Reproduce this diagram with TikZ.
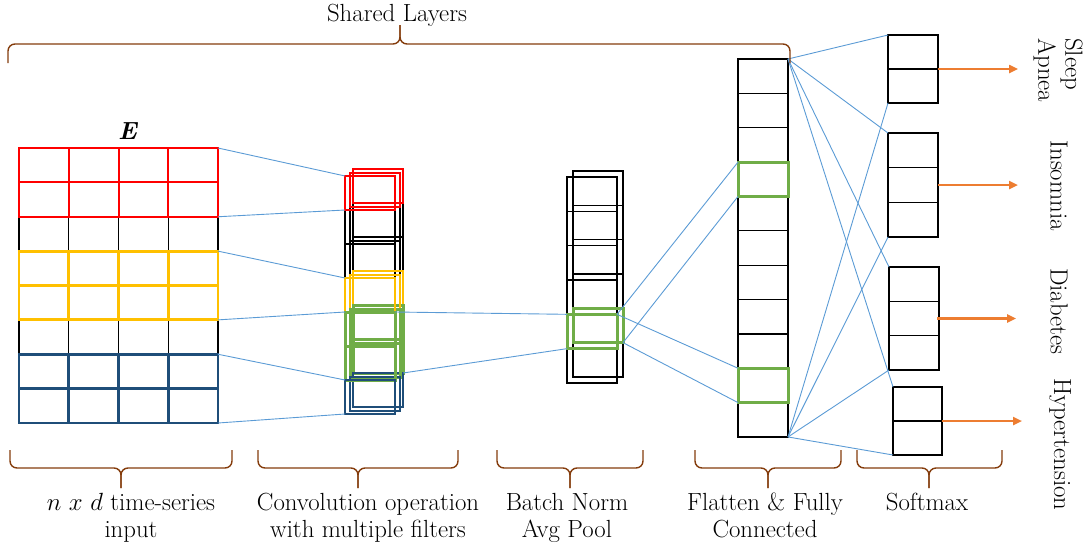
\documentclass[tikz,border=0pt]{standalone}
\usepackage{fontspec}
\usetikzlibrary{arrows.meta}
\definecolor{cred}{RGB}{255,0,0}
\definecolor{cyel}{RGB}{255,192,0}
\definecolor{cblu}{RGB}{31,78,121}
\definecolor{cgrn}{RGB}{112,173,71}
\definecolor{clink}{RGB}{91,155,213}
\definecolor{cbrace}{RGB}{132,60,12}
\definecolor{carrow}{RGB}{237,125,49}
\begin{document}
\begin{tikzpicture}[x=1pt,y=-1pt,
  font=\fontsize{24.8}{27}\selectfont,
  cellbox/.style={draw=black,line width=1.3pt,inner sep=0pt,outer sep=0pt,anchor=north west,minimum width=50pt,minimum height=34.3pt},
  link/.style={draw=clink,line width=0.9pt},
  bracepath/.style={draw=cbrace,line width=1.4pt,rounded corners=7pt},
  outarrow/.style={draw=carrow,line width=2.4pt,-{Triangle[length=9pt,width=8pt]}},
  lbl/.style={inner sep=0pt}
]
\useasboundingbox (0,0) rectangle (1086,546);

% ---------- input grid ----------
\foreach \r/\col/\lw in {2/black/1.3,5/black/1.3,0/cred/2,1/cred/2,3/cyel/2.8,4/cyel/2.8,6/cblu/2.8,7/cblu/2.8}
  \foreach \c in {0,...,3}
    \node[cellbox,draw=\col,line width=\lw pt,minimum width=49.75pt,minimum height=34.375pt] (in-\r-\c) at ({19+49.75*\c},{148+34.375*\r}) {};
\node[lbl] (elabel) at (128,131) {\textit{\textbf{E}}};

% ---------- convolution stack ----------
\foreach \k/\xo/\yo in {2/353/169,1/350/173,0/345/176}
  \foreach \i in {1,2}
    \node[cellbox,minimum height=34pt] (cv-\k-\i) at (\xo,{\yo+34*\i}) {};
\foreach \k/\xo/\yo in {2/353/169,1/350/173,0/345/176}
  \foreach \i/\col/\lw in {0/cred/2,3/cyel/2.8,4/cgrn/3,5/cgrn/3,6/cblu/2.8}
    \node[cellbox,minimum height=34pt,draw=\col,line width=\lw pt] (cv-\k-\i) at (\xo,{\yo+34*\i}) {};

% ---------- batch norm / pool stack ----------
\foreach \k/\xo/\yo in {1/573/171,0/567/177}
  \foreach \i in {0,1,2,3,5}
    \node[cellbox,minimum height=34.33pt] (bn-\k-\i) at (\xo,{\yo+34.33*\i}) {};
\foreach \k/\xo/\yo in {1/573/171,0/567/177}
  \node[cellbox,minimum height=34.33pt,draw=cgrn,line width=3pt] (bn-\k-4) at (\xo,{\yo+34.33*4}) {};

% ---------- flatten / fully connected ----------
\foreach \i in {0,1,2,4,5,6,7,8,10}
  \node[cellbox,minimum height=34.36pt] (fc-\i) at (738,{59+34.36*\i}) {};
\foreach \i in {3,9}
  \node[cellbox,minimum height=34.36pt,draw=cgrn,line width=3pt] (fc-\i) at (738,{59+34.36*\i}) {};

% ---------- softmax boxes ----------
\foreach \i in {0,1}
  \node[cellbox,minimum height=34pt] (sa-\i) at (888,{35+34*\i}) {};
\foreach \i in {0,1,2}
  \node[cellbox,minimum height=34.67pt] (sb-\i) at (888,{133+34.67*\i}) {};
\foreach \i in {0,1,2}
  \node[cellbox,minimum height=34.33pt] (sc-\i) at (889,{267+34.33*\i}) {};
\foreach \i in {0,1}
  \node[cellbox,minimum width=49pt,minimum height=34pt] (sd-\i) at (893,{387+34*\i}) {};

% ---------- connectors ----------
\draw[link] (in-0-3.north east) -- (cv-0-0.north west);
\draw[link] (in-1-3.south east) -- (cv-0-0.south west);
\draw[link] (in-3-3.north east) -- (cv-0-3.north west);
\draw[link] (in-4-3.south east) -- (cv-0-3.south west);
\draw[link] (in-6-3.north east) -- (cv-0-6.north west);
\draw[link] (in-7-3.south east) -- (cv-0-6.south west);

\draw[link] (cv-0-4.north east) -- (bn-0-4.north west);
\draw[link] (cv-2-5.south east) -- (bn-0-4.south west);

\draw[link] (bn-0-4.north east) -- (fc-3.north west);
\draw[link] (bn-1-4.south east) -- (fc-3.south west);
\draw[link] (bn-0-4.north east) -- (fc-9.north west);
\draw[link] (bn-1-4.south east) -- (fc-9.south west);

\foreach \t in {sa-0,sb-0,sc-0,sd-0}
  \draw[link] (fc-0.north east) -- (\t.north west);
\foreach \t in {sa-1,sb-2,sc-2,sd-1}
  \draw[link] (fc-10.south east) -- (\t.south west);

% ---------- output arrows ----------
\coordinate (ta) at (1018,0);
\coordinate (tb) at (1018,0);
\coordinate (tc) at (1016,0);
\coordinate (td) at (1022,0);
\draw[outarrow] (sa-0.south east) -- (sa-0.south east -| ta);
\draw[outarrow] (sb-1.east) -- (sb-1.east -| tb);
\draw[outarrow] ([xshift=-2pt]sc-1.east) -- (sc-1.east -| tc);
\draw[outarrow] (sd-0.south east) -- (sd-0.south east -| td);

\node[lbl,rotate=-90,align=left,anchor=west] (lsleep) at (1058,38) {Sleep\\Apnea};
\node[lbl,rotate=-90,anchor=west] (linsom) at (1059,140) {Insomnia};
\node[lbl,rotate=-90,anchor=west] (ldiab) at (1059,268) {Diabetes};
\node[lbl,rotate=-90,anchor=west] (lhyper) at (1060,378) {Hypertension};

% ---------- braces ----------
\draw[bracepath] (8,63) -- (8,44) -- (400,44) -- (400,25);
\draw[bracepath] (790,63) -- (790,44) -- (400,44) -- (400,25);
\node[lbl,anchor=base] (shared) at (397,21) {Shared Layers};

\foreach \a/\t/\b in {10/121/232,258/358/458,497/570/643,695/768/841,857/929/1002}{
  \draw[bracepath] (\a,450) -- (\a,468) -- (\t,468) -- (\t,488);
  \draw[bracepath] (\b,450) -- (\b,468) -- (\t,468) -- (\t,488);
}

\node[lbl,align=center,anchor=base] (lin) at (131,537) {$n$ $x$ $d$ time-series\\input};
\node[lbl,align=center,anchor=base] (lconv) at (368,537) {Convolution operation\\with multiple filters};
\node[lbl,align=center,anchor=base] (lbn) at (567,537) {Batch Norm\\Avg Pool};
\node[lbl,align=center,anchor=base] (lfc) at (765,537) {Flatten \& Fully\\Connected};
\node[lbl,anchor=base] (lsm) at (927,510) {Softmax};
\end{tikzpicture}
\end{document}
